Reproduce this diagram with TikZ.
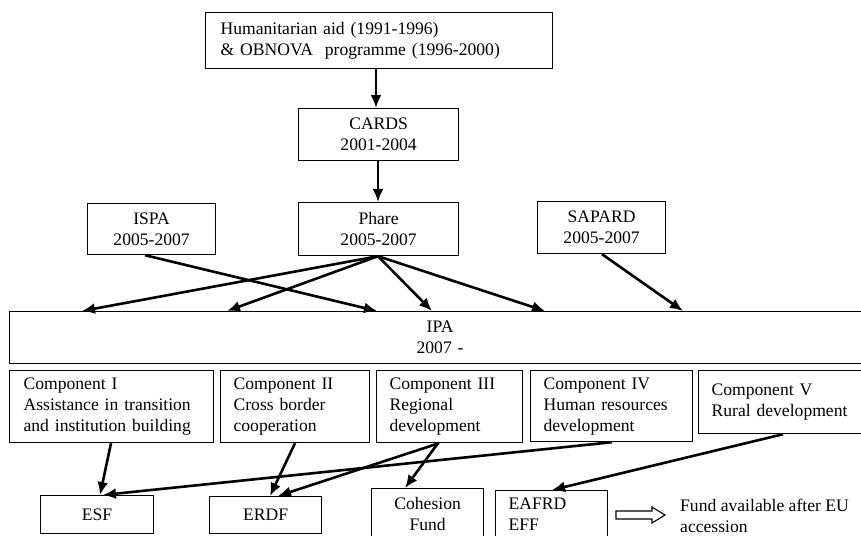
\documentclass[tikz,border=0pt]{standalone}
\usepackage{fontspec}
\setmainfont{Liberation Serif}
\usetikzlibrary{arrows.meta}
\begin{document}
\begin{tikzpicture}[x=1pt,y=-1pt,
  box/.style={draw, line width=1.2pt, inner sep=0pt, anchor=north west, font=\fontsize{17.6}{21}\selectfont},
  cbox/.style={box, align=center},
  lbox/.style={box, align=left, inner xsep=13pt},
  arr/.style={line width=2.6pt, -{Latex[length=13pt,width=11pt]}},
  lbl/.style={inner sep=0pt, anchor=north west, align=left, font=\fontsize{17.6}{21}\selectfont},
]
\useasboundingbox (0,0) rectangle (861,535);
% boxes
\node[lbox, inner xsep=15pt, text width=317pt, minimum width=347pt, minimum height=56pt] (top) at (205,12)
  {Humanitarian aid (1991-1996)\\\& OBNOVA~ programme (1996-2000)};
\node[cbox, text width=160pt, minimum height=52pt] (cards) at (298,108) {CARDS\\2001-2004};
\node[cbox, text width=160pt, minimum height=53pt] (phare) at (298,202) {Phare\\2005-2007};
\node[cbox, text width=128pt, minimum height=51pt] (ispa) at (87,203) {ISPA\\2005-2007};
\node[cbox, text width=128pt, minimum height=52pt] (sapard) at (537,201) {SAPARD\\2005-2007};
\node[cbox, text width=861pt, minimum height=52pt] (ipa) at (9,311) {IPA\\2007 -};
\node[lbox, inner xsep=14pt, text width=176pt, minimum height=72pt] (c1) at (9,370)
  {Component I\\Assistance in transition\\and institution building};
\node[lbox, text width=123pt, minimum height=72pt] (c2) at (220,370)
  {Component II\\Cross border\\cooperation};
\node[lbox, text width=120pt, minimum height=72pt] (c3) at (376,370)
  {Component III\\Regional\\development};
\node[lbox, text width=136pt, minimum height=71pt] (c4) at (530,370)
  {Component IV\\Human resources\\development};
\node[lbox, text width=146pt, minimum height=63pt] (c5) at (698,370)
  {Component V\\Rural development};
\node[cbox, text width=113pt, minimum height=38pt] (esf) at (40,495) {ESF};
\node[cbox, text width=112pt, minimum height=37pt] (erdf) at (209,496) {ERDF};
\node[cbox, text width=112pt, minimum height=50pt] (coh) at (371,488) {Cohesion\\Fund};
\node[lbox, text width=86pt, minimum height=48pt] (eafrd) at (495,490) {EAFRD\\EFF};
\node[lbl] (note) at (680,499) {Fund available after EU\\accession};
% hollow arrow
\draw[line width=1.1pt] (616,511) -- (652,511) -- (652,507) -- (665,515) -- (652,523) -- (652,519) -- (616,519) -- cycle;
% arrows
\draw[arr] ([xshift=171pt]top.south west) -- ([xshift=78pt]cards.north west);
\draw[arr] ([xshift=80pt]cards.south west) -- ([xshift=80pt]phare.north west);
\draw[arr] ([xshift=80pt]phare.south west) -- ([xshift=73pt]ipa.north west);
\draw[arr] ([xshift=80pt]phare.south west) -- ([xshift=218pt]ipa.north west);
\draw[arr] ([xshift=80pt]phare.south west) -- ([xshift=423pt]ipa.north west);
\draw[arr] ([xshift=80pt]phare.south west) -- ([xshift=536pt]ipa.north west);
\draw[arr] ([xshift=58pt]ispa.south west) -- ([xshift=368pt]ipa.north west);
\draw[arr] ([xshift=65pt]sapard.south west) -- ([xshift=674pt]ipa.north west);
\draw[arr] ([xshift=102pt]c1.south west) -- ([xshift=60pt]esf.north west);
\draw[arr] ([xshift=75pt]c2.south west) -- ([xshift=61pt]erdf.north west);
\draw[arr] ([xshift=63pt]c3.south west) -- ([xshift=69pt]erdf.north west);
\draw[arr] ([xshift=62pt]c3.south west) -- ([xshift=34pt]coh.north west);
\draw[arr] ([xshift=82pt]c4.south west) -- ([xshift=63pt]esf.north west);
\draw[arr] ([xshift=85pt]c5.south west) -- ([xshift=57pt]eafrd.north west);
\end{tikzpicture}
\end{document}
